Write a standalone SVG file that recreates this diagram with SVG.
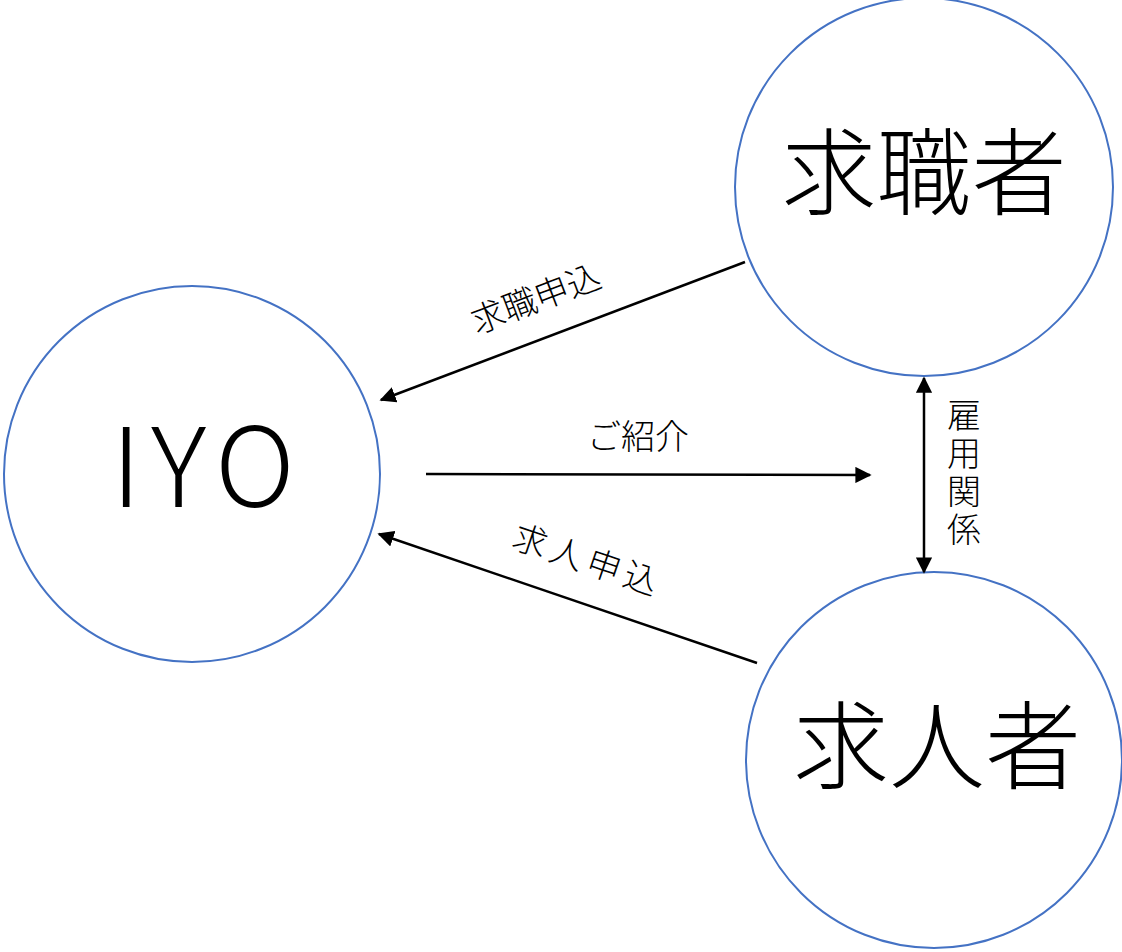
<svg xmlns="http://www.w3.org/2000/svg" width="1122" height="952" viewBox="0 0 1122 952">
<style>
.node{fill:#fff;stroke:#4472C4;stroke-width:2}
.big{font-family:"Noto Sans CJK JP","Noto Sans",sans-serif;font-weight:300;fill:#000;text-anchor:middle}
.lbl{font-family:"Noto Sans CJK JP","Noto Sans",sans-serif;font-weight:300;fill:#000;font-size:34px;text-anchor:middle}
.conn{stroke:#000;stroke-width:2.5;fill:none}
</style>
<defs>
<marker id="ah" viewBox="0 0 10 10" refX="9" refY="5" markerWidth="6.5" markerHeight="6.5" markerUnits="strokeWidth" orient="auto-start-reverse">
<path d="M0,0 L10,5 L0,10 z" fill="#000"/>
</marker>
</defs>
<rect width="1122" height="952" fill="#fff"/>
<g id="node-kyushokusha">
<circle class="node" cx="924" cy="187" r="189"/>
<text class="big" x="924" y="208" font-size="95">求職者</text>
</g>
<g id="node-iyo">
<circle class="node" cx="192" cy="474" r="188"/>
<text class="big" x="208" y="507" font-size="110" letter-spacing="10">IYO</text>
</g>
<g id="node-kyujinsha">
<circle class="node" cx="934" cy="760" r="188"/>
<text class="big" x="937" y="781" font-size="96">求人者</text>
</g>
<g id="connectors">
<line class="conn" x1="745" y1="262" x2="381" y2="400" marker-end="url(#ah)"/>
<line class="conn" x1="426" y1="474" x2="870" y2="475" marker-end="url(#ah)"/>
<line class="conn" x1="757" y1="663" x2="379" y2="534" marker-end="url(#ah)"/>
<line class="conn" x1="924" y1="378" x2="924" y2="572" marker-start="url(#ah)" marker-end="url(#ah)"/>
</g>
<g id="labels">
<text class="lbl" transform="translate(540,310) rotate(-20.8)">求職申込</text>
<text class="lbl" x="638" y="449" font-size="35">ご紹介</text>
<text class="lbl" transform="translate(584,572) rotate(18.8)" font-size="31" letter-spacing="5">求人申込</text>
<text class="lbl" x="964" y="398" writing-mode="vertical-rl" letter-spacing="4" style="text-anchor:start">雇用関係</text>
</g>
</svg>
